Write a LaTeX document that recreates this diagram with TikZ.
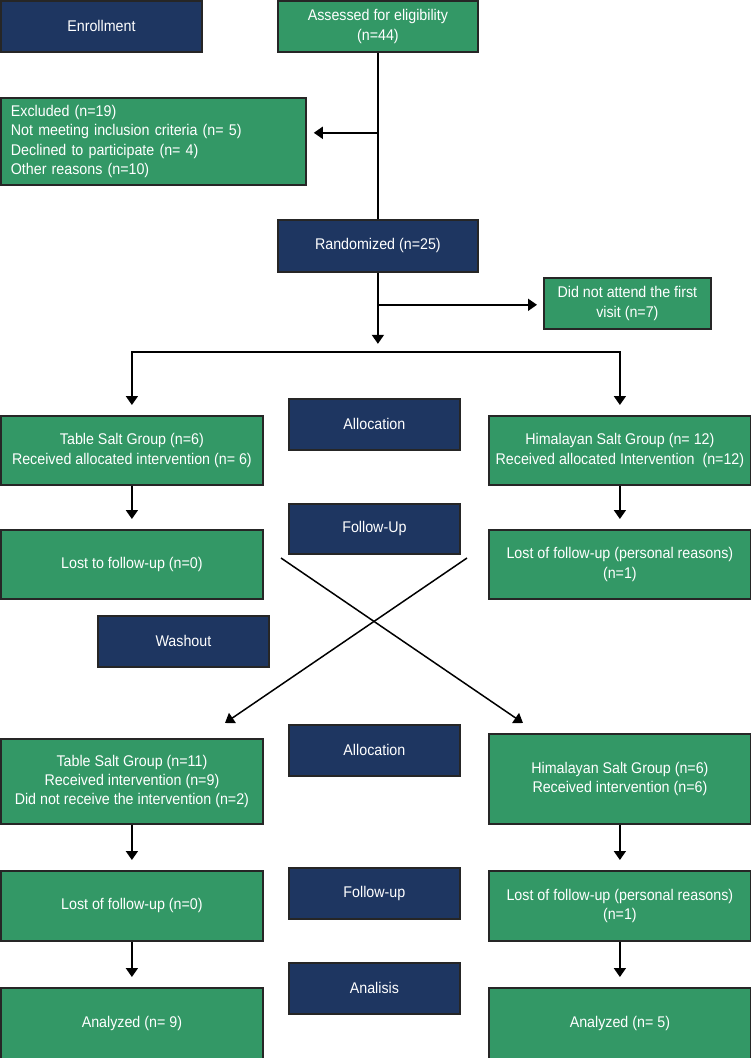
\documentclass[tikz,border=0pt]{standalone}
\usepackage{fontspec}
\setmainfont{Liberation Sans}[FakeStretch=0.92]
\usetikzlibrary{arrows.meta, calc}
\definecolor{navyblue}{RGB}{30,54,97}
\definecolor{saltgreen}{RGB}{51,152,102}

\begin{document}
\begin{tikzpicture}[x=1pt, y=-1pt,
	box/.style={draw=black!85, line width=1.8pt, text=white, anchor=north west, align=center, inner sep=3pt, font=\fontsize{15.5}{19.3}\selectfont},
	navbox/.style={box, fill=navyblue},
	grnbox/.style={box, fill=saltgreen},
	link/.style={line width=1.8pt},
	flow/.style={link, -{Triangle[width=12pt, length=9pt]}, shorten >=10pt}]
	\useasboundingbox (0,0) rectangle (750,1058);
	% enrollment
	\node [navbox, minimum width=201pt, minimum height=51pt] (enrol) at (0,0) {Enrollment};
	\node [grnbox, minimum width=200pt, minimum height=51pt] (assess) at (277,0) {Assessed for eligibility\\(n=44)};
	\node [grnbox, align=left, text width=285pt, inner xsep=10pt, minimum height=87pt] (excl) at (0,97) {Excluded (n=19)\\Not meeting inclusion criteria (n= 5)\\Declined to participate (n= 4)\\Other reasons (n=10)};
	\node [navbox, minimum width=200pt, minimum height=52pt] (rand) at (277,219) {Randomized (n=25)};
	\node [grnbox, minimum width=167pt, minimum height=51pt] (noshow) at (543,277) {Did not attend the first\\visit (n=7)};
	% first period
	\node [grnbox, minimum width=262pt, minimum height=69pt] (tabA) at (0,415) {Table Salt Group (n=6)\\Received allocated intervention (n= 6)};
	\node [navbox, minimum width=171pt, minimum height=51pt] (allocA) at (288,398) {Allocation};
	\node [grnbox, minimum width=262pt, minimum height=69pt] (himA) at (488,415) {Himalayan Salt Group (n= 12)\\Received allocated Intervention\ \ (n=12)};
	\node [navbox, minimum width=171pt, minimum height=50pt] (followA) at (288,503) {Follow-Up};
	\node [grnbox, minimum width=262pt, minimum height=69pt] (lostA) at (0,529) {Lost to follow-up (n=0)};
	\node [grnbox, minimum width=262pt, minimum height=69pt] (lostB) at (488,529) {Lost of follow-up (personal reasons)\\(n=1)};
	\node [navbox, minimum width=171pt, minimum height=51pt] (wash) at (97,615) {Washout};
	% second period
	\node [navbox, minimum width=171pt, minimum height=51pt] (allocB) at (288,724) {Allocation};
	\node [grnbox, minimum width=262pt, minimum height=85pt] (tabB) at (0,738) {Table Salt Group (n=11)\\Received intervention (n=9)\\Did not receive the intervention (n=2)};
	\node [grnbox, minimum width=262pt, minimum height=90pt] (himB) at (488,733) {Himalayan Salt Group (n=6)\\Received intervention (n=6)};
	\node [navbox, minimum width=171pt, minimum height=51pt] (followB) at (288,867) {Follow-up};
	\node [grnbox, minimum width=262pt, minimum height=70pt] (lostC) at (0,870) {Lost of follow-up (n=0)};
	\node [grnbox, minimum width=262pt, minimum height=70pt] (lostD) at (488,870) {Lost of follow-up (personal reasons)\\(n=1)};
	\node [navbox, minimum width=171pt, minimum height=51pt] (anal) at (288,962) {Analisis};
	\node [grnbox, minimum width=262pt, minimum height=71pt] (anaA) at (0,987) {Analyzed (n= 9)};
	\node [grnbox, minimum width=262pt, minimum height=71pt] (anaB) at (488,987) {Analyzed (n= 5)};
	% branch points
	\coordinate (exbr) at ($(assess.south)+(0,80)$);
	\coordinate (nsbr) at ($(rand.south)+(0,32)$);
	\coordinate (split) at ($(rand.south)+(0,79)$);
	\coordinate (xa) at (281,558);
	\coordinate (xb) at (523,723);
	\coordinate (xc) at (467,558);
	\coordinate (xd) at (225,723);
	% connectors
	\draw [link] (assess.south) -- (rand.north);
	\draw [flow, shorten >=7pt] (exbr) -- (exbr -| excl.east);
	\draw [flow, shorten >=8pt] (rand.south) -- (split);
	\draw [flow, shorten >=6pt] (nsbr) -- (nsbr -| noshow.west);
	\draw [flow] (split) -| (tabA.north);
	\draw [flow] (split) -| (himA.north);
	\foreach \a/\b in {tabA/lostA, himA/lostB, tabB/lostC, himB/lostD, lostC/anaA, lostD/anaB}
		\draw [flow] (\a) -- (\b);
	\draw [flow, line width=1.5pt, shorten >=0pt] (xa) -- (xb);
	\draw [flow, line width=1.5pt, shorten >=0pt] (xc) -- (xd);
\end{tikzpicture}
\end{document}
